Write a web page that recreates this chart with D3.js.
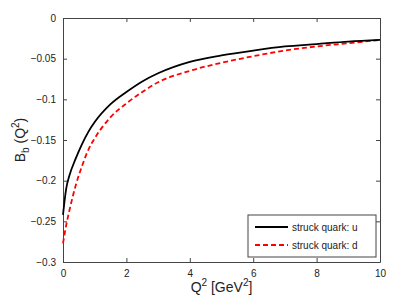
<!DOCTYPE html>
<html>
<head>
<meta charset="utf-8">
<script src="https://cdn.jsdelivr.net/npm/d3@7"></script>
<style>
  body { margin: 0; background: #fff; }
  svg text { font-family: "Liberation Sans", Arial, sans-serif; fill: #222; }
</style>
</head>
<body>
<div id="chart"></div>
<script>
// Q^2 sample points [GeV^2]
const q2 = [0, 0.1, 0.2, 0.4, 0.6, 0.8, 1, 1.5, 2, 2.5, 3, 4, 5, 6, 7, 8, 9, 10];
// struck quark: u
const bU = [-0.242, -0.21, -0.194, -0.173, -0.155, -0.14, -0.128, -0.106, -0.091, -0.078, -0.068, -0.054, -0.046, -0.040, -0.035, -0.032, -0.029, -0.027];
// struck quark: d
const bD = [-0.277, -0.255, -0.237, -0.206, -0.182, -0.162, -0.148, -0.122, -0.105, -0.091, -0.079, -0.065, -0.055, -0.047, -0.040, -0.035, -0.031, -0.027];

const xTicks = [0, 2, 4, 6, 8, 10];
const yTicks = [0, -0.05, -0.1, -0.15, -0.2, -0.25, -0.3];
const legendLabels = ['struck quark: u', 'struck quark: d'];

const width = 409, height = 300;
const plot = {left: 63, right: 380, top: 18, bottom: 262};

const svg = d3.select('#chart')
  .append('svg')
  .attr('width', width)
  .attr('height', height);

const x = d3.scaleLinear().domain([0, 10]).range([plot.left, plot.right]);
const y = d3.scaleLinear().domain([-0.3, 0]).range([plot.bottom, plot.top]);

const fmt = d => d === 0 ? '0' : String(d).replace('-', '\u2212');
const axisColor = '#444';

// axes box with inward ticks on all four sides
const axes = svg.append('g');

axes.append('g')
  .attr('transform', `translate(0,${plot.bottom})`)
  .call(d3.axisBottom(x).tickValues(xTicks).tickSizeInner(-4).tickSizeOuter(0).tickPadding(8).tickFormat(fmt));
axes.append('g')
  .attr('transform', `translate(0,${plot.top})`)
  .call(d3.axisTop(x).tickValues(xTicks).tickSizeInner(-4).tickSizeOuter(0).tickFormat(''));
axes.append('g')
  .attr('transform', `translate(${plot.left},0)`)
  .call(d3.axisLeft(y).tickValues(yTicks).tickSizeInner(-4).tickSizeOuter(0).tickPadding(7).tickFormat(fmt));
axes.append('g')
  .attr('transform', `translate(${plot.right},0)`)
  .call(d3.axisRight(y).tickValues(yTicks).tickSizeInner(-4).tickSizeOuter(0).tickFormat(''));

axes.selectAll('.domain, .tick line').attr('stroke', axisColor);
axes.selectAll('.tick text')
  .style('font-family', '"Liberation Sans", Arial, sans-serif')
  .style('font-size', '10px')
  .attr('fill', '#222');

// curves
const line = d3.line()
  .x((d, i) => x(q2[i]))
  .y(d => y(d))
  .curve(d3.curveMonotoneX);

svg.append('path')
  .datum(bD)
  .attr('d', line)
  .attr('fill', 'none')
  .attr('stroke', '#ff0000')
  .attr('stroke-width', 1.8)
  .attr('stroke-dasharray', '5,3');

svg.append('path')
  .datum(bU)
  .attr('d', line)
  .attr('fill', 'none')
  .attr('stroke', '#000')
  .attr('stroke-width', 1.8);

// axis labels
const xLabel = svg.append('text')
  .attr('x', (plot.left + plot.right) / 2)
  .attr('y', 292)
  .attr('text-anchor', 'middle')
  .style('font-size', '14px');
xLabel.append('tspan').text('Q');
xLabel.append('tspan').attr('dy', -6).style('font-size', '10px').text('2');
xLabel.append('tspan').attr('dy', 6).text(' [GeV');
xLabel.append('tspan').attr('dy', -6).style('font-size', '10px').text('2');
xLabel.append('tspan').attr('dy', 6).text(']');

const yLabel = svg.append('text')
  .attr('transform', `translate(25,${(plot.top + plot.bottom) / 2}) rotate(-90)`)
  .attr('text-anchor', 'middle')
  .style('font-size', '14px');
yLabel.append('tspan').text('B');
yLabel.append('tspan').attr('dy', 4).style('font-size', '10px').text('b');
yLabel.append('tspan').attr('dy', -4).text(' (Q');
yLabel.append('tspan').attr('dy', -6).style('font-size', '10px').text('2');
yLabel.append('tspan').attr('dy', 6).text(')');

// legend
const legend = svg.append('g').attr('transform', 'translate(248,215)');
legend.append('rect')
  .attr('width', 128)
  .attr('height', 42)
  .attr('fill', '#fff')
  .attr('stroke', axisColor);

const legendStyles = [
  {stroke: '#000', dash: null},
  {stroke: '#ff0000', dash: '5,3'}
];
legendLabels.forEach((label, i) => {
  const row = legend.append('g').attr('transform', `translate(0,${12 + i * 18})`);
  row.append('line')
    .attr('x1', 7).attr('x2', 40)
    .attr('stroke', legendStyles[i].stroke)
    .attr('stroke-width', 1.8)
    .attr('stroke-dasharray', legendStyles[i].dash);
  row.append('text')
    .attr('x', 44)
    .attr('dy', '0.35em')
    .style('font-size', '10px')
    .text(label);
});
</script>
</body>
</html>
